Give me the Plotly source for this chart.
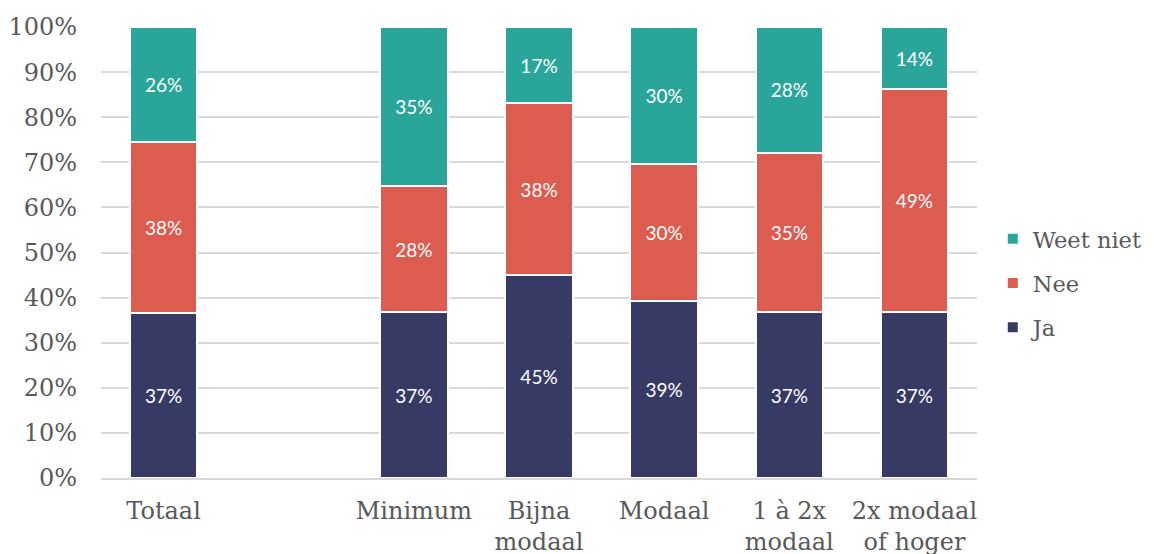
import plotly.graph_objects as go

categories = ["Totaal", " ", "Minimum", "Bijna<br>modaal", "Modaal", "1 à 2x<br>modaal", "2x modaal<br>of hoger"]
ja = [36.6, None, 36.8, 45.0, 39.2, 36.8, 36.8]
nee = [37.8, None, 27.9, 38.1, 30.4, 35.3, 49.4]
weet_niet = [25.6, None, 35.3, 16.9, 30.4, 27.9, 13.8]
y_ticks = [0, 10, 20, 30, 40, 50, 60, 70, 80, 90, 100]
y_tick_labels = [f"{v}%" for v in y_ticks]

series = [("Ja", ja, "#363a64", 3), ("Nee", nee, "#dc5c50", 2), ("Weet niet", weet_niet, "#2aa59a", 1)]

fig = go.Figure()
for name, vals, color, rank in series:
    fig.add_trace(go.Bar(
        x=categories, y=vals, name=name, legendgroup=name, legendrank=rank,
        marker=dict(color=color, line=dict(color="white", width=2)),
        texttemplate="%{y:.0f}%", textposition="inside", insidetextanchor="middle",
        textangle=0, textfont=dict(family="Lato", size=19, color="white"),
        hoverinfo="skip",
    ))

fig.update_layout(
    barmode="stack", bargap=0.46,
    width=1154, height=554,
    margin=dict(l=93, r=185, t=19, b=84, autoexpand=False),
    paper_bgcolor="white", plot_bgcolor="white",
    font=dict(family="DejaVu Serif", color="#595959", size=24),
    legend=dict(
        traceorder="grouped", tracegroupgap=12,
        x=1.018, xanchor="left", y=0.432, yanchor="middle",
        font=dict(family="DejaVu Serif", size=22.5, color="#595959"),
        itemwidth=30,
    ),
    xaxis=dict(
        type="category", showline=True, linecolor="#d9d9d9", linewidth=2,
        tickfont=dict(family="DejaVu Serif", size=24, color="#595959"),
        ticks="", showgrid=False, automargin=False, ticklabelstandoff=10,
    ),
    yaxis=dict(
        range=[0, 100], tickvals=y_ticks, ticktext=y_tick_labels,
        showgrid=True, gridcolor="#d9d9d9", gridwidth=2,
        zeroline=False, ticks="", ticklabelstandoff=23, automargin=False,
        tickfont=dict(family="DejaVu Serif", size=24, color="#595959"),
    ),
)

fig.write_html("out.html")
